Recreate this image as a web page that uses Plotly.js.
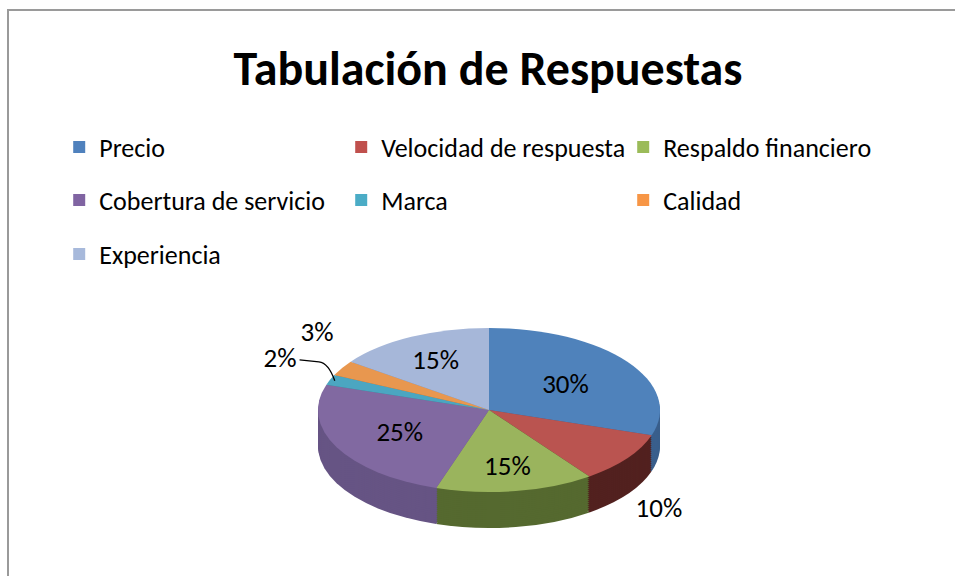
<!DOCTYPE html>
<html>
<head>
<meta charset="utf-8">
<script src="https://cdn.plot.ly/plotly-3.0.1.min.js"></script>
<style>
html,body{margin:0;padding:0;background:#ffffff;overflow:hidden;}
#frame{position:absolute;left:7px;top:9px;width:1100px;height:800px;border-left:2px solid #9a9a9a;border-top:2px solid #9a9a9a;}
#chart{position:absolute;left:0;top:0;width:955px;height:576px;}
</style>
</head>
<body>
<div id="frame"></div>
<div id="chart"></div>
<script>
// ---- data ----
const categories = ["Precio","Velocidad de respuesta","Respaldo financiero","Cobertura de servicio","Marca","Calidad","Experiencia"];
const values = [30, 10, 15, 25, 2, 3, 15];
const textPositions = ["inside","outside","inside","inside","outside","outside","inside"];
const legendRows = ["legend","legend","legend","legend2","legend2","legend2","legend3"];
const topColors = ["#4F82BB","#BA5450","#9AB45D","#8169A1","#4BA6C1","#E8974F","#A6B7D9"];
const sideColors = ["#3A5F8C","#52211F","#55692F","#665484","#357D90","#B36A2E","#7A87A3"];
const legendColors = ["#4F81BD","#C0504D","#9BBB59","#8064A2","#4BACC6","#F79646","#A7B9DB"];
const titleText = "Tabulación de Respuestas";

// ---- geometry (layout only) ----
const W = 955, H = 576;
const R = 171;               // pie radius in px (before squash)
const CX = 489;              // centre x px
const K = 0.48;              // vertical squash of the top face
const Y_TOP = 410;           // centre y of top ellipse on screen
const DEPTH = 36;            // side depth in screen px
const KOUT = 0.8;            // squash for outside labels
const NLAYERS = 18;
const YC_PAPER = 0.55;       // pie centre (paper) before squash
const FONT = "Carlito, Calibri, Lato, sans-serif";

const dx = [(CX - R) / W, (CX + R) / W];
function domY(offsetPx) {
  const c = YC_PAPER - offsetPx / H;
  return [c - R / H, c + R / H];
}

const traces = [];
for (let i = NLAYERS; i >= 1; i--) {
  const off = (DEPTH / K) * i / NLAYERS;
  traces.push({
    type: "pie", labels: categories, values: values, sort: false,
    direction: "clockwise", rotation: 0,
    marker: {colors: sideColors, line: {width: 0}},
    textinfo: "none", hoverinfo: "skip", showlegend: false,
    domain: {x: dx, y: domY(off)}
  });
}
const TOP = traces.length;
traces.push({
  type: "pie", labels: categories, values: values, sort: false,
  direction: "clockwise", rotation: 0,
  marker: {colors: topColors, line: {width: 0}},
  texttemplate: "%{percent:.0%}", textposition: textPositions,
  insidetextorientation: "horizontal",
  textfont: {family: FONT, size: 27, color: "#000000"},
  hoverinfo: "skip", showlegend: false,
  domain: {x: dx, y: domY(0)}
});
categories.forEach((c, i) => {
  traces.push({
    type: "scatter", mode: "markers", x: [null], y: [null], name: c,
    marker: {symbol: "square", size: 12, color: legendColors[i]},
    legend: legendRows[i], showlegend: true, hoverinfo: "skip"
  });
});

function leg(y) {
  return {orientation: "h", x: 0.062, xanchor: "left", y: y, yanchor: "middle",
    entrywidth: 237, entrywidthmode: "pixels", traceorder: "normal",
    bgcolor: "rgba(0,0,0,0)", font: {family: FONT, size: 26, color: "#000000"}};
}

const layout = {
  width: W, height: H,
  margin: {l: 0, r: 0, t: 0, b: 0},
  paper_bgcolor: "rgba(0,0,0,0)", plot_bgcolor: "rgba(0,0,0,0)",
  title: {text: titleText, x: 488 / W, xanchor: "center", y: 1 - 68 / H, yanchor: "middle",
    yref: "container", font: {family: FONT, size: 48, color: "#000000", weight: "bold"}},
  xaxis: {visible: false}, yaxis: {visible: false},
  showlegend: true,
  legend: leg(1 - 147 / H),
  legend2: leg(1 - 200 / H),
  legend3: leg(1 - 254 / H),
  hovermode: false
};

function shiftText(t, ddx, ddy) {
  const tr = t.getAttribute("transform") || "";
  const m = tr.match(/translate\(\s*([-\d.eE]+)[\s,]+([-\d.eE]+)\s*\)/);
  if (m) {
    const nx = parseFloat(m[1]) + ddx, ny = parseFloat(m[2]) + ddy;
    t.setAttribute("transform", tr.replace(m[0], "translate(" + nx + "," + ny + ")"));
  } else {
    t.setAttribute("transform", "translate(" + ddx + "," + ddy + ") " + tr);
  }
}

const gd = document.getElementById("chart");
Plotly.newPlot(gd, traces, layout, {staticPlot: true, displayModeBar: false}).then(function () {
  const C = gd.calcdata[TOP][0].cy;
  const tf = "translate(0," + Y_TOP + ") scale(1," + K + ") translate(0," + (-C) + ")";
  gd.querySelectorAll(".pielayer path.surface").forEach(p => p.setAttribute("transform", tf));
  const groups = gd.querySelectorAll(".pielayer g.trace");
  const topGroup = groups[groups.length - 1];
  const slices = topGroup.querySelectorAll("g.slice");
  const outside = [];
  slices.forEach((s, i) => {
    const t = s.querySelector("text.slicetext");
    const ln = s.querySelector("path.textline");
    if (ln) ln.style.display = "none";
    if (!t) return;
    const r = t.getBoundingClientRect();
    const cy = r.top + r.height / 2;
    let target;
    if (textPositions[i] === "outside") {
      target = Y_TOP + (cy - C) * KOUT + (cy > C ? DEPTH * 0.35 : 0);
      outside.push({i: i, t: t, s: s});
    } else {
      target = Y_TOP + (cy - C) * K;
    }
    shiftText(t, 0, target - cy);
  });
  // resolve overlaps among outside labels: move the smaller one outward, add a leader line
  const total = values.reduce((a, b) => a + b, 0);
  for (let a = 0; a < outside.length; a++) {
    for (let b = a + 1; b < outside.length; b++) {
      const A = outside[a], B = outside[b];
      const ra = A.t.getBoundingClientRect(), rb = B.t.getBoundingClientRect();
      const ov = !(ra.right < rb.left || rb.right < ra.left || ra.bottom - 6 < rb.top || rb.bottom - 6 < ra.top);
      if (!ov) continue;
      const mv = values[A.i] <= values[B.i] ? A : B;
      const other = mv === A ? B : A;
      const rm = mv.t.getBoundingClientRect(), ro = other.t.getBoundingClientRect();
      const left = (rm.left + rm.right) / 2 < CX;
      const shift = left ? -(rm.right - ro.left + 4) : (ro.right - rm.left + 4);
      shiftText(mv.t, shift, 0);
      const nr = mv.t.getBoundingClientRect();
      let cum = 0;
      for (let k = 0; k < mv.i; k++) cum += values[k];
      const ang = 2 * Math.PI * (cum + values[mv.i] / 2) / total;
      const ex = CX + 0.97 * R * Math.sin(ang);
      const ey = Y_TOP - 0.97 * R * Math.cos(ang) * K;
      const sx = left ? nr.right + 3 : nr.left - 3;
      const sy = (nr.top + nr.bottom) / 2 + 2;
      const mx = left ? sx + (ex - sx) * 0.55 : sx - (sx - ex) * 0.55;
      const p = document.createElementNS("http://www.w3.org/2000/svg", "path");
      p.setAttribute("d", "M" + sx + "," + sy + "L" + mx + "," + (sy + 2) + "Q" + (mx + (ex - mx) * 0.6) + "," + (sy + 3) + " " + ex + "," + ey);
      p.setAttribute("fill", "none");
      p.setAttribute("stroke", "#000000");
      p.setAttribute("stroke-width", "1.3");
      mv.s.appendChild(p);
    }
  }
});
</script>
</body>
</html>
